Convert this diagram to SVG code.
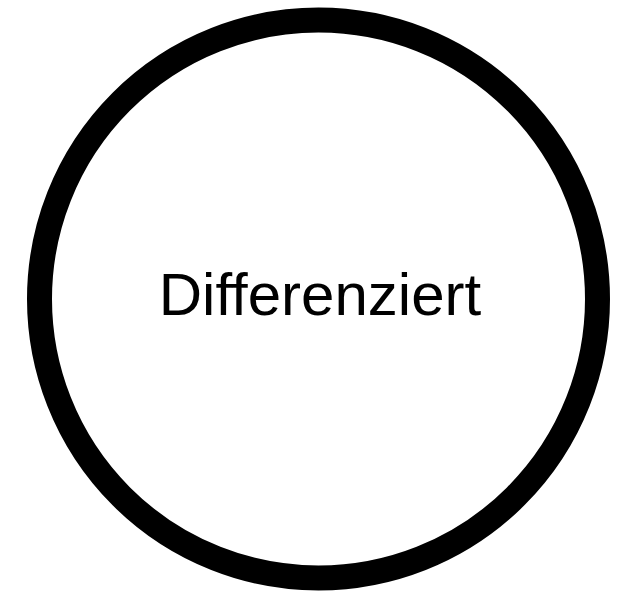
<svg xmlns="http://www.w3.org/2000/svg" width="638" height="599" viewBox="0 0 638 599">
<style>
.node{fill:#ffffff;stroke:#000000;stroke-width:25}
.label{font-family:"Liberation Sans",Arial,sans-serif;font-size:60px;fill:#000000;text-anchor:middle;font-variant-ligatures:none;font-feature-settings:"liga" 0,"clig" 0;letter-spacing:0.01px}
</style>
<rect width="638" height="599" fill="#ffffff"/>
<g id="node-differenziert">
<circle class="node" cx="318.5" cy="299" r="279"/>
<text class="label" x="320" y="315">Differenziert</text>
</g>
<g id="connectors"/>
</svg>
